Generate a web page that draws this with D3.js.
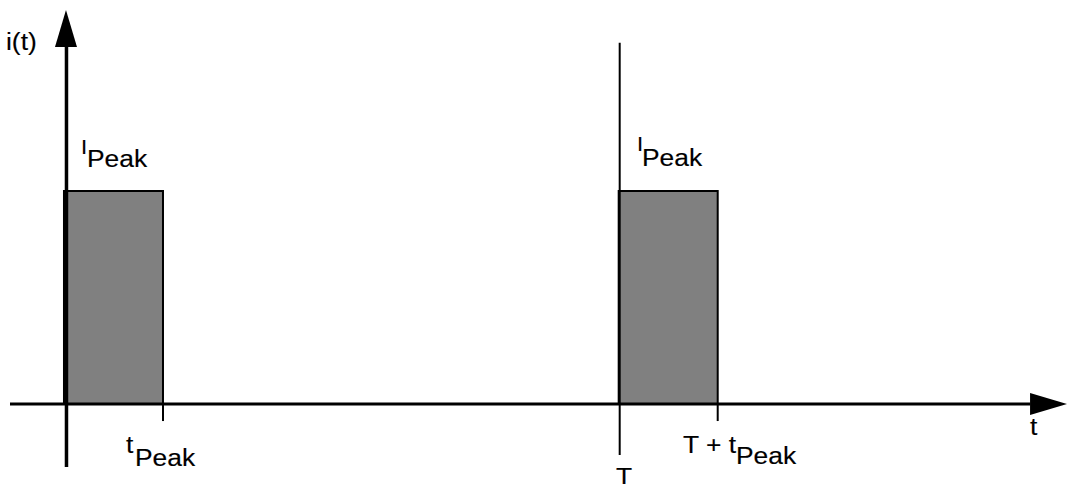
<!DOCTYPE html>
<html>
<head>
<meta charset="utf-8">
<script src="https://cdn.jsdelivr.net/npm/d3@7"></script>
<style>
  html, body { margin: 0; padding: 0; background: #fff; }
  svg { display: block; }
  text { font-family: "Liberation Sans", Arial, sans-serif; fill: #000; stroke: #000; stroke-width: 0.15px; }
</style>
</head>
<body>
<svg id="chart" width="1067" height="484"></svg>
<script>
// ---- data (time in units of tPeak, current in units of IPeak) ----
const pulseStart  = [0, 5.66];       // 0 and T
const pulseWidth  = [1, 1];          // tPeak
const pulseHeight = [1, 1];          // IPeak
const periodT     = 5.66;            // T
const tickValues  = [1, 6.66];       // tPeak, T + tPeak
const tickLabelMain = ["t", "T + t"];
const tickLabelSub  = ["Peak", "Peak"];
const peakLabelMain = "I";
const peakLabelSub  = "Peak";
const xAxisLabel = "t";
const yAxisLabel = "i(t)";

const svg = d3.select("#chart");
const x = d3.scaleLinear().domain([-0.561, 10.224]).range([10, 1067]);
const y = d3.scaleLinear().domain([0, 1]).range([404, 191]);

const SX = 1.1; // horizontal text stretch
function label(xp, yp, str, size) {
  svg.append("text")
    .attr("transform", `translate(${xp},${yp}) scale(${SX},1)`)
    .style("font-size", size + "px")
    .text(str);
}

// pulses
svg.selectAll("rect.pulse")
  .data(pulseStart.map((s, i) => ({ s, w: pulseWidth[i], h: pulseHeight[i] })))
  .join("rect")
  .attr("class", "pulse")
  .attr("x", d => x(d.s) - 1)
  .attr("y", d => y(d.h))
  .attr("width", d => x(d.s + d.w) - x(d.s) + 1)
  .attr("height", d => y(0) - y(d.h))
  .attr("fill", "#808080")
  .attr("stroke", "#000")
  .attr("stroke-width", 2);

// vertical marker at T
svg.append("line")
  .attr("x1", x(periodT)).attr("x2", x(periodT))
  .attr("y1", y(1.696)).attr("y2", y(-0.239))
  .attr("stroke", "#000").attr("stroke-width", 2);

// ticks
svg.selectAll("line.tick")
  .data(tickValues)
  .join("line")
  .attr("class", "tick")
  .attr("x1", d => x(d)).attr("x2", d => x(d))
  .attr("y1", y(0)).attr("y2", y(-0.08))
  .attr("stroke", "#000").attr("stroke-width", 2);

// x axis
svg.append("line")
  .attr("x1", x(-0.561)).attr("x2", x(9.85))
  .attr("y1", y(0)).attr("y2", y(0))
  .attr("stroke", "#000").attr("stroke-width", 3);
svg.append("path")
  .attr("d", `M${x(10.224)},${y(0)} L${x(9.847)},${y(0) - 11} L${x(9.847)},${y(0) + 11} Z`)
  .attr("fill", "#000");

// y axis
svg.append("line")
  .attr("x1", x(0) + 1.5).attr("x2", x(0) + 1.5)
  .attr("y1", y(1.68)).attr("y2", y(-0.296))
  .attr("stroke", "#000").attr("stroke-width", 3.5);
svg.append("path")
  .attr("d", `M${x(0) + 1},${y(1.85)} L${x(0) - 10},${y(1.676)} L${x(0) + 12},${y(1.676)} Z`)
  .attr("fill", "#000");

// labels
label(6, 50, yAxisLabel, 24);
label(1030, 435, xAxisLabel, 24);

// I_Peak labels
label(81, 154, peakLabelMain, 20);
label(87, 167, peakLabelSub, 24);
label(637, 151, peakLabelMain, 20);
label(642, 166, peakLabelSub, 24);

// tick labels
label(126, 453, tickLabelMain[0], 24);
label(135, 466, tickLabelSub[0], 24);
label(683, 453, tickLabelMain[1], 24);
label(736, 464, tickLabelSub[1], 24);

// T label (cut at the bottom edge, as in the reference)
label(616, 485, "T", 24);
</script>
</body>
</html>
